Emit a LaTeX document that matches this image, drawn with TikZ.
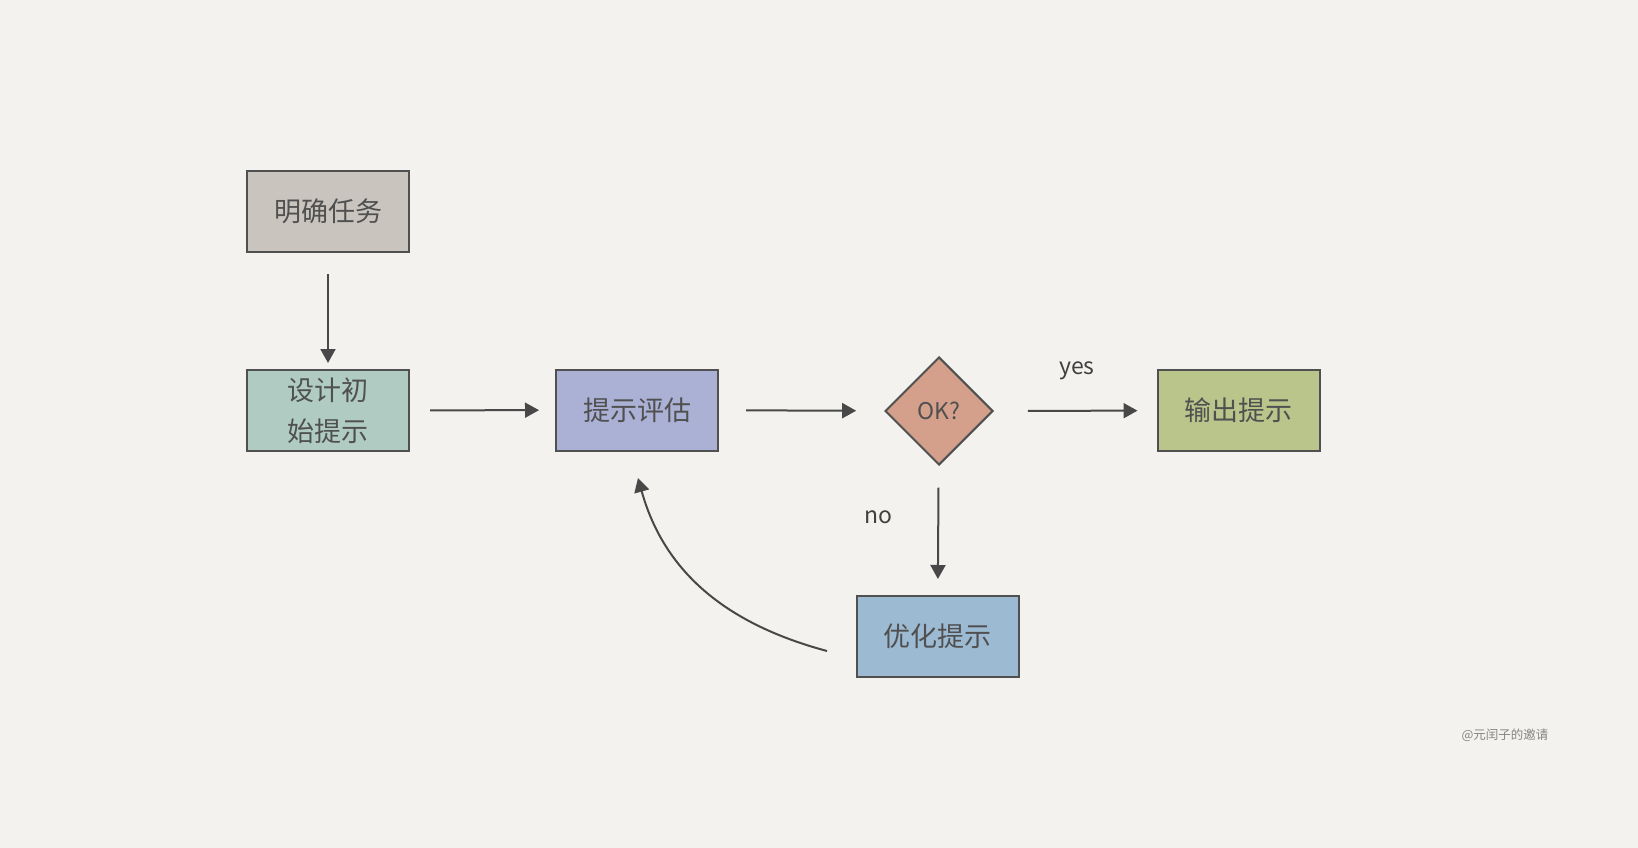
\documentclass[tikz,border=0pt]{standalone}
\usepackage{fontspec}
\setmainfont{Noto Sans CJK SC}
\newfontfamily\cjk{Noto Sans CJK SC}
\usetikzlibrary{arrows.meta,shapes.geometric}
\definecolor{bg}{HTML}{F3F2EE}
\definecolor{ink}{HTML}{505050}
\definecolor{cTask}{HTML}{C9C4BE}
\definecolor{cDesign}{HTML}{B0CCC2}
\definecolor{cEval}{HTML}{AAB1D4}
\definecolor{cOK}{HTML}{D4A08C}
\definecolor{cOut}{HTML}{BAC58B}
\definecolor{cRef}{HTML}{9DBAD3}
\tikzset{
  box/.style={draw=ink, line width=2pt, minimum width=162pt, minimum height=81pt, inner sep=0pt, text=ink, font=\cjk\fontsize{27}{41}\selectfont, align=center},
  dia/.style={diamond, draw=ink, line width=2pt, minimum width=108pt, minimum height=108pt, aspect=1, inner sep=0pt, text=ink, font=\cjk\fontsize{23}{26}\selectfont},
  conn/.style={draw=ink!90!black, line width=2pt, -{Triangle[length=14pt,width=15pt]}},
  lbl/.style={text=ink!80!black, font=\fontsize{23}{26}\selectfont},
}
\begin{document}
\begin{tikzpicture}[x=1pt,y=-1pt]
\fill[bg] (0,0) rectangle (1638,848);
\useasboundingbox (0,0) rectangle (1638,848);
\node[box, fill=cTask] (task) at (328,211.5) {明确任务};
\node[box, fill=cDesign] (design) at (328,410.5) {设计初\\始提示};
\node[box, fill=cEval] (eval) at (637,410) {提示评估};
\node[dia, fill=cOK] (ok) at (939,411) {OK?};
\node[box, fill=cOut] (out) at (1238.5,410.5) {输出提示};
\node[box, fill=cRef] (ref) at (937.5,636.5) {优化提示};
\draw[conn, shorten <=21pt, shorten >=6pt] (task) -- (design);
\draw[conn, shorten <=20pt, shorten >=16pt] (design) -- (eval);
\draw[conn, shorten <=27pt, shorten >=28pt] (eval) -- (ok);
\draw[conn, shorten <=34pt, shorten >=19pt] (ok) -- (out);
\draw[conn, shorten <=22pt, shorten >=16pt] (ok) -- (ref);
\coordinate (cs) at (827,651);
\coordinate (ce) at (638,478);
\draw[conn] (cs) .. controls (730,625) and (665,575) .. (ce);
\node[lbl] (yes) at (1077,371) {yes};
\node[lbl] (no) at (878,517) {no};
\node[text=ink!70, font=\cjk\fontsize{12.5}{14}\selectfont] (wm) at (1505,735) {@元闰子的邀请};
\end{tikzpicture}
\end{document}
